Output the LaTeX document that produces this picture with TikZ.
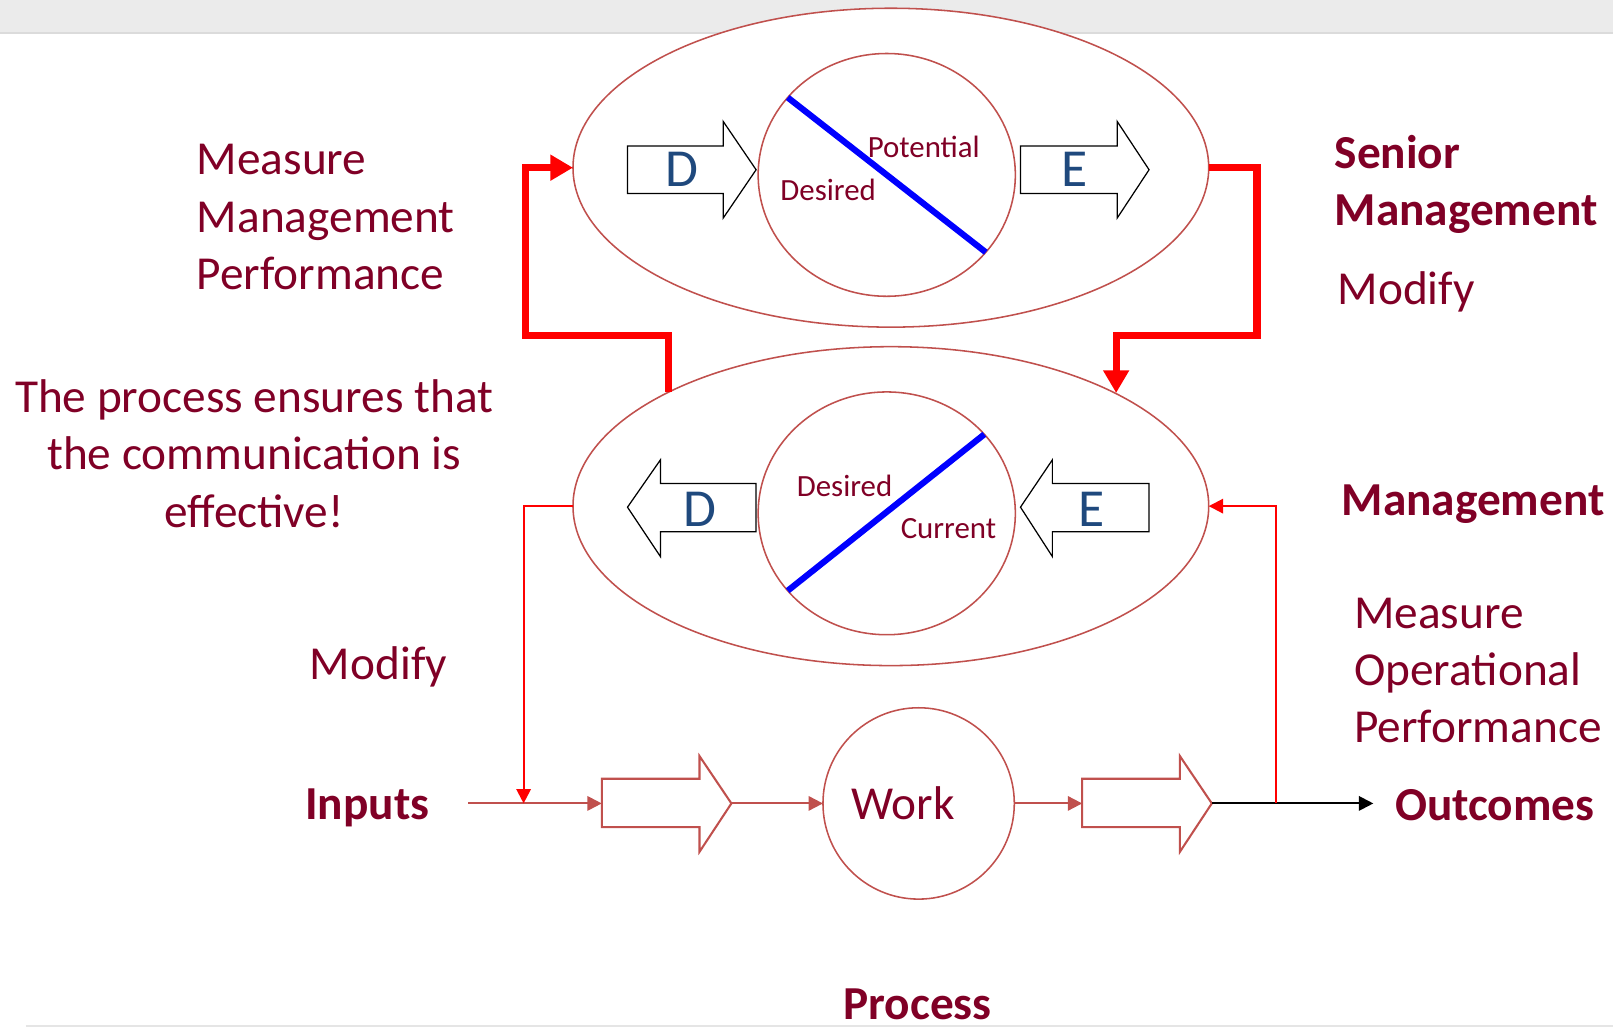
\documentclass[tikz,border=0pt]{standalone}
\usepackage{fontspec}
\setmainfont{Carlito}
\usetikzlibrary{shapes.geometric,arrows.meta}
\definecolor{wine}{RGB}{128,0,38}
\definecolor{rim}{RGB}{192,80,77}
\definecolor{letterblue}{RGB}{31,73,125}
\tikzset{
  ring/.style={ellipse,draw=rim,line width=0.75pt,fill=white,inner sep=0pt,outer sep=0pt},
  lbl/.style={text=wine,font=\fontsize{23}{27.8}\selectfont,inner sep=0pt},
  boldlbl/.style={lbl,font=\fontsize{23}{27.8}\selectfont\bfseries},
  small/.style={text=wine,font=\fontsize{15}{18}\selectfont,inner sep=0pt},
  letter/.style={text=letterblue,font=\fontsize{26}{30}\selectfont,inner sep=0pt},
  blk/.style={draw=black,line width=0.6pt,fill=white},
  procblk/.style={draw=rim,line width=1pt,fill=white},
  slash/.style={draw=blue,line width=3pt},
  feed/.style={draw=red,line width=3.5pt,-{Triangle[length=11pt,width=12pt]}},
  thinfeed/.style={draw=red,line width=1pt,-{Triangle[length=7pt,width=7pt]}},
  flow/.style={draw=rim,line width=1pt,-{Triangle[length=7pt,width=7pt]}}
}
\begin{document}
\begin{tikzpicture}[x=0.5pt,y=-0.5pt]
    \useasboundingbox (0,0) rectangle (1568,1003);
    \fill [black!8] (0,0) rectangle (1568,32);
    \draw [black!14,line width=1pt] (0,32) -- (1568,32);
    \draw [black!10,line width=1pt] (25,997) -- (1568,997);
    % two levels
    \node [ring,minimum width=309pt,minimum height=155pt] (upper) at (866,163) {};
    \node [ring,minimum width=125pt,minimum height=118pt] (inner1) at (862,170) {};
    \node [ring,minimum width=309pt,minimum height=155pt] (lower) at (866,492) {};
    \node [ring,minimum width=125pt,minimum height=118pt] (inner2) at (862,499) {};
    \draw [slash] (inner1.142) -- (inner1.-38);
    \draw [slash] (inner2.-142) -- (inner2.39);
    \node [small] (pot) at (898,143) {Potential};
    \node [small] (des1) at (805,185) {Desired};
    \node [small] (des2) at (821,472) {Desired};
    \node [small] (cur) at (922,514) {Current};
    \draw [blk] (610,142) -- (703,142) -- (703,118) -- (735,165) -- (703,212) -- (703,188) -- (610,188) -- cycle;
    \draw [blk] (992,142) -- (1086,142) -- (1086,118) -- (1117,165) -- (1086,212) -- (1086,188) -- (992,188) -- cycle;
    \draw [blk] (735,470) -- (642,470) -- (642,447) -- (610,493) -- (642,541) -- (642,517) -- (735,517) -- cycle;
    \draw [blk] (1117,470) -- (1023,470) -- (1023,447) -- (992,493) -- (1023,541) -- (1023,517) -- (1117,517) -- cycle;
    \node [letter] (d1) at (663,165) {D};
    \node [letter] (e1) at (1045,165) {E};
    \node [letter] (d2) at (680,495) {D};
    \node [letter] (e2) at (1061,495) {E};
    % process row
    \node [circle,draw=rim,line width=0.75pt,minimum size=93pt,inner sep=0pt,outer sep=0pt] (work) at (893,781) {};
    \node [lbl] (worktxt) at (878,781) {Work};
    \draw [procblk] (585,757) -- (680,757) -- (680,735) -- (711,781) -- (680,828) -- (680,804) -- (585,804) -- cycle;
    \draw [procblk] (1052,757) -- (1147,757) -- (1147,735) -- (1178,781) -- (1147,828) -- (1147,804) -- (1052,804) -- cycle;
    \coordinate (inp) at (455,781);
    \coordinate (p1tail) at (585,781);
    \coordinate (p1tip) at (711,781);
    \coordinate (p2tail) at (1052,781);
    \coordinate (p2tip) at (1178,781);
    \coordinate (outc) at (1335,781);
    \coordinate (tap) at (1240,781);
    \coordinate (mod) at (509,781);
    \draw [flow] (inp) -- (p1tail);
    \draw [flow] (p1tip) -- (work.west);
    \draw [flow] (work.east) -- (p2tail);
    \draw [line width=1pt,-{Triangle[length=7pt,width=7pt]}] (p2tip) -- (outc);
    \draw [thinfeed] (lower.west) -| (mod);
    \draw [thinfeed] (tap) |- (lower.east);
    % feedback between levels
    \coordinate (fb1) at (650,381);
    \coordinate (fb2) at (1085,382);
    \draw [feed] (fb1) |- (511,326) |- (upper.west);
    \draw [feed] (upper.east) -| (1222,326) -| (fb2);
    % labels
    \node [lbl,align=left,anchor=west] (mmp) at (191,211) {Measure\\Management\\Performance};
    \node [lbl,align=center] (note) at (247,441) {The process ensures that\\the communication is\\effective!};
    \node [lbl] (modl) at (368,648) {Modify};
    \node [boldlbl] (inputs) at (357,785) {Inputs};
    \node [boldlbl,align=left,anchor=west] (senior) at (1297,179) {Senior\\Management};
    \node [lbl,anchor=west] (modr) at (1300,284) {Modify};
    \node [boldlbl] (mgmt) at (1432,490) {Management};
    \node [lbl,align=left,anchor=west] (mop) at (1316,652) {Measure\\Operational\\Performance};
    \node [boldlbl] (outcomes) at (1453,783) {Outcomes};
    \node [boldlbl] (process) at (892,976) {Process};
\end{tikzpicture}
\end{document}
